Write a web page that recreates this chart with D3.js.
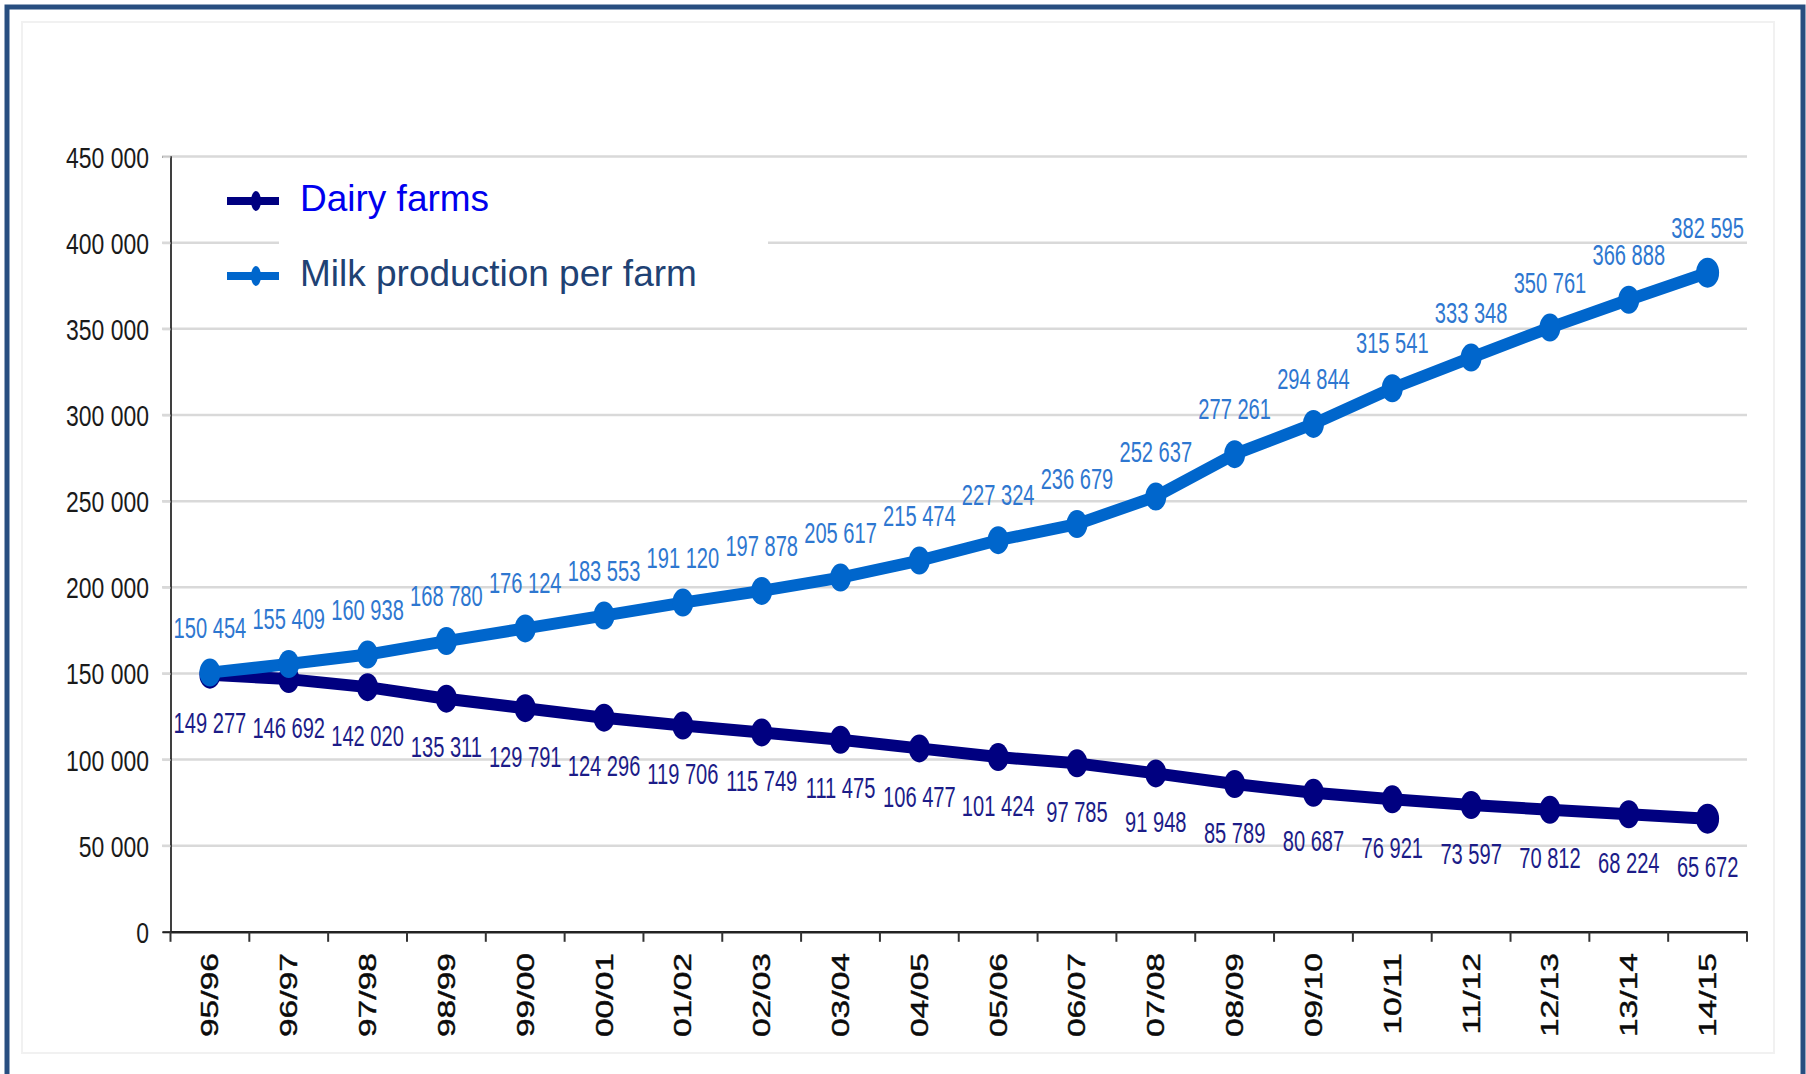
<!DOCTYPE html>
<html><head><meta charset="utf-8">
<script src="https://cdn.jsdelivr.net/npm/d3@7"></script>
<style>html,body{margin:0;padding:0;background:#fff;}svg{display:block;}</style>
</head><body>
<svg id="chart" width="1806" height="1074"></svg>
<script>
const categories = ["95/96","96/97","97/98","98/99","99/00","00/01","01/02","02/03","03/04","04/05","05/06","06/07","07/08","08/09","09/10","10/11","11/12","12/13","13/14","14/15"];
const milkPerFarm = [150454,155409,160938,168780,176124,183553,191120,197878,205617,215474,227324,236679,252637,277261,294844,315541,333348,350761,366888,382595];
const dairyFarms = [149277,146692,142020,135311,129791,124296,119706,115749,111475,106477,101424,97785,91948,85789,80687,76921,73597,70812,68224,65672];
const yTicks = [0,50000,100000,150000,200000,250000,300000,350000,400000,450000];
const seriesNames = ["Dairy farms","Milk production per farm"];

(function(){
const svg = d3.select("#chart");
const fmt = v => d3.format(",")(v).replace(/,/g," ");
const FONT = "Liberation Sans, Arial, sans-serif";

const pL = 170.5, pR = 1747, pT = 156.6, pB = 931.8;
const x = d3.scalePoint().domain(categories).range([pL, pR]).padding(0.5);
const xb = d3.scaleBand().domain(categories).range([pL, pR]);
const y = d3.scaleLinear().domain([0, 450000]).range([pB, pT]);

// frame
svg.append("rect").attr("x",22).attr("y",22).attr("width",1752).attr("height",1031)
  .attr("fill","none").attr("stroke","#f1f1f1").attr("stroke-width",2);
svg.append("path").attr("d","M7,1074 V7 H1803 V1074").attr("fill","none")
  .attr("stroke","#284e80").attr("stroke-width",5);

// gridlines
svg.append("g").selectAll("line").data(yTicks.filter(d=>d>0)).join("line")
  .attr("x1",162).attr("x2",pR).attr("y1",d=>y(d)).attr("y2",d=>y(d))
  .attr("stroke","#d9d9d9").attr("stroke-width",2.5);

// legend box hiding gridline
svg.append("rect").attr("x",279).attr("y",175).attr("width",489).attr("height",120).attr("fill","#fff");

// y axis
const yAxis = d3.axisLeft(y).tickValues(yTicks).tickSize(8).tickFormat("");
const gy = svg.append("g").attr("transform",`translate(${pL},0)`).call(yAxis);
gy.select(".domain").attr("stroke","#111").attr("stroke-width",1.6);
gy.selectAll(".tick line").attr("stroke",d=>d===0?"#222":"#d9d9d9").attr("stroke-width",2);
svg.append("g").selectAll("text").data(yTicks).join("text")
  .attr("transform",d=>`translate(149,${y(d)+11}) scale(0.765,1)`)
  .attr("text-anchor","end").attr("font-family",FONT)
  .attr("font-size",30).attr("fill","#1a1a1a").text(d=>fmt(d));

// x axis
const xAxis = d3.axisBottom(xb).tickSize(0).tickFormat("");
const gx = svg.append("g").attr("transform",`translate(0,${pB})`).call(xAxis);
gx.select(".domain").attr("stroke","#222").attr("stroke-width",2.5);
const bounds = categories.map(c=>xb(c)).concat([pR]);
svg.append("g").selectAll("line").data(bounds).join("line")
  .attr("x1",d=>d).attr("x2",d=>d).attr("y1",pB).attr("y2",pB+10)
  .attr("stroke","#333").attr("stroke-width",2);
svg.append("g").selectAll("text").data(categories).join("text")
  .attr("transform",d=>`translate(${x(d)+8.5},953) rotate(-90) scale(1.4,1)`)
  .attr("text-anchor","end").attr("font-family",FONT)
  .attr("font-size",24).attr("fill","#0a0a0a").attr("stroke","#0a0a0a").attr("stroke-width",0.4)
  .text(d=>d);

// series
const line = d3.line().x((d,i)=>x(categories[i])).y(d=>y(d));
function drawSeries(vals, color, labelColor, dyLabel){
  svg.append("path").datum(vals).attr("d",line).attr("fill","none")
    .attr("stroke",color).attr("stroke-width",12).attr("stroke-linejoin","round");
  svg.append("g").selectAll("ellipse").data(vals).join("ellipse")
    .attr("cx",(d,i)=>x(categories[i])).attr("cy",d=>y(d))
    .attr("rx",(d,i)=>i===vals.length-1?11.5:10.5).attr("ry",(d,i)=>i===vals.length-1?15:14)
    .attr("fill",color);
  svg.append("g").selectAll("text").data(vals).join("text")
    .attr("transform",(d,i)=>`translate(${x(categories[i])},${y(d)+dyLabel}) scale(0.67,1)`)
    .attr("text-anchor","middle").attr("font-family",FONT)
    .attr("font-size",30).attr("fill",labelColor).text(d=>fmt(d));
}
drawSeries(dairyFarms, "#000080", "#1c1c88", 58.5);
drawSeries(milkPerFarm, "#0066cc", "#2e77d0", -35);

// legend
const legendColors = ["#000080","#0066cc"];
const legendText = ["#0000ee","#1f4274"];
const legendY = [201, 276];
seriesNames.forEach((n,i)=>{
  const g = svg.append("g");
  g.append("line").attr("x1",227).attr("x2",279).attr("y1",legendY[i]).attr("y2",legendY[i])
    .attr("stroke",legendColors[i]).attr("stroke-width",8);
  g.append("ellipse").attr("cx",256).attr("cy",legendY[i]).attr("rx",5).attr("ry",10).attr("fill",legendColors[i]);
  g.append("text").attr("x",300).attr("y",legendY[i]+10).attr("font-family",FONT)
    .attr("font-size",37).attr("fill",legendText[i]).text(n);
});
})();
</script>
</body></html>
